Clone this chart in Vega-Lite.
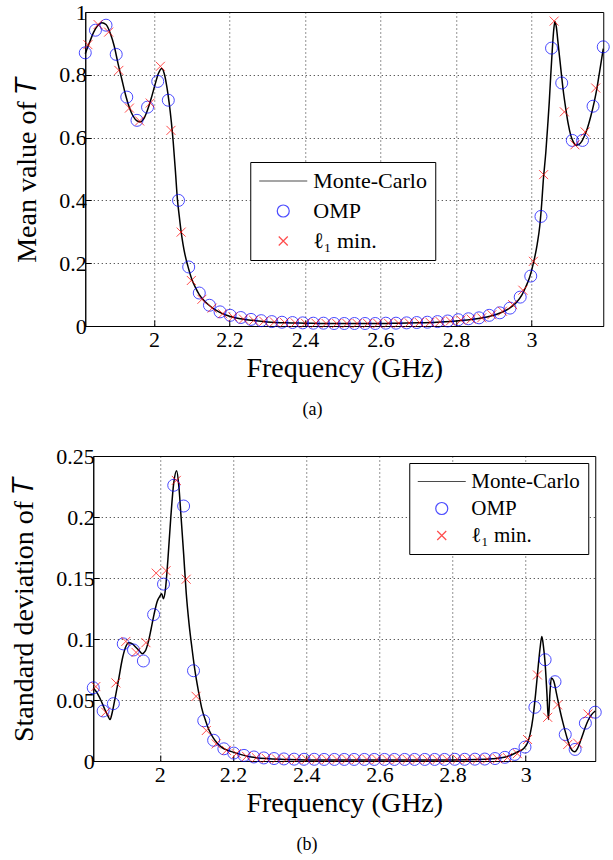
{
  "$schema": "https://vega.github.io/schema/vega-lite/v6.json",
  "background": "white",
  "padding": {"left": 10, "top": 0, "right": 2, "bottom": 0},
  "spacing": 24,
  "center": true,
  "config": {
    "font": "Liberation Serif",
    "view": {"stroke": "black", "strokeWidth": 1},
    "axis": {
      "labelFont": "Liberation Serif", "titleFont": "Liberation Serif",
      "labelFontSize": 22, "titleFontSize": 28, "titleFontWeight": "normal",
      "labelColor": "black", "titleColor": "black",
      "domainColor": "black", "domainWidth": 1, "tickColor": "black", "tickSize": -6, "tickWidth": 1,
      "gridColor": "#000000", "gridDash": [1, 3], "gridOpacity": 0.85, "gridWidth": 1
    },
    "axisX": {"titlePadding": 4, "labelPadding": 9},
    "axisY": {"titlePadding": 17, "labelPadding": 5},
    "legend": {
      "labelFont": "Liberation Serif", "labelColor": "black",
      "strokeColor": "black", "fillColor": "white", "padding": 8,
      "symbolSize": 144, "symbolStrokeWidth": 1.2, "symbolOffset": 14, "labelOffset": 19
    }
  },
  "datasets": {
    "tm": [
      {"f":1.818,"v":0.867},{"f":1.830,"v":0.905},{"f":1.840,"v":0.935},{"f":1.850,"v":0.955},{"f":1.862,"v":0.966},
      {"f":1.873,"v":0.960},{"f":1.885,"v":0.930},{"f":1.895,"v":0.890},{"f":1.905,"v":0.835},{"f":1.915,"v":0.785},
      {"f":1.925,"v":0.735},{"f":1.935,"v":0.695},{"f":1.945,"v":0.668},{"f":1.955,"v":0.653},{"f":1.963,"v":0.650},
      {"f":1.972,"v":0.658},{"f":1.982,"v":0.685},{"f":1.992,"v":0.722},{"f":2.002,"v":0.765},{"f":2.012,"v":0.805},
      {"f":2.021,"v":0.820},{"f":2.028,"v":0.800},{"f":2.035,"v":0.755},{"f":2.040,"v":0.713},{"f":2.046,"v":0.650},
      {"f":2.051,"v":0.586},{"f":2.057,"v":0.490},{"f":2.062,"v":0.405},{"f":2.067,"v":0.350},{"f":2.072,"v":0.300},
      {"f":2.077,"v":0.260},{"f":2.082,"v":0.228},{"f":2.090,"v":0.190},{"f":2.100,"v":0.150},{"f":2.110,"v":0.122},
      {"f":2.120,"v":0.100},{"f":2.135,"v":0.078},{"f":2.150,"v":0.062},{"f":2.165,"v":0.050},{"f":2.180,"v":0.040},
      {"f":2.200,"v":0.031},{"f":2.230,"v":0.023},{"f":2.260,"v":0.018},{"f":2.300,"v":0.013},{"f":2.350,"v":0.010},
      {"f":2.400,"v":0.009},{"f":2.450,"v":0.008},{"f":2.500,"v":0.008},{"f":2.550,"v":0.008},{"f":2.600,"v":0.008},
      {"f":2.650,"v":0.009},{"f":2.700,"v":0.010},{"f":2.750,"v":0.012},{"f":2.800,"v":0.016},{"f":2.830,"v":0.019},
      {"f":2.860,"v":0.024},{"f":2.890,"v":0.031},{"f":2.920,"v":0.043},{"f":2.940,"v":0.055},{"f":2.960,"v":0.075},
      {"f":2.975,"v":0.100},{"f":2.985,"v":0.125},{"f":2.995,"v":0.155},{"f":3.005,"v":0.200},{"f":3.015,"v":0.260},
      {"f":3.022,"v":0.320},{"f":3.027,"v":0.390},{"f":3.031,"v":0.460},{"f":3.038,"v":0.555},{"f":3.043,"v":0.640},
      {"f":3.047,"v":0.713},{"f":3.051,"v":0.800},{"f":3.055,"v":0.880},{"f":3.059,"v":0.945},{"f":3.062,"v":0.970},
      {"f":3.066,"v":0.950},{"f":3.070,"v":0.905},{"f":3.074,"v":0.860},{"f":3.078,"v":0.815},{"f":3.084,"v":0.750},
      {"f":3.091,"v":0.690},{"f":3.097,"v":0.645},{"f":3.104,"v":0.607},{"f":3.110,"v":0.588},{"f":3.117,"v":0.576},
      {"f":3.125,"v":0.578},{"f":3.133,"v":0.588},{"f":3.140,"v":0.605},{"f":3.148,"v":0.630},{"f":3.157,"v":0.668},
      {"f":3.166,"v":0.713},{"f":3.173,"v":0.755},{"f":3.179,"v":0.800},{"f":3.185,"v":0.845},{"f":3.190,"v":0.883}
    ],
    "to": [
      {"f":1.818,"v":0.870},{"f":1.845,"v":0.942},{"f":1.873,"v":0.958},{"f":1.900,"v":0.865},{"f":1.928,"v":0.729},
      {"f":1.955,"v":0.655},{"f":1.983,"v":0.697},{"f":2.010,"v":0.779},{"f":2.038,"v":0.719},{"f":2.065,"v":0.400},
      {"f":2.092,"v":0.188},{"f":2.120,"v":0.105},{"f":2.147,"v":0.066},{"f":2.175,"v":0.045},{"f":2.202,"v":0.034},
      {"f":2.230,"v":0.027},{"f":2.257,"v":0.021},{"f":2.284,"v":0.017},{"f":2.312,"v":0.014},{"f":2.339,"v":0.012},
      {"f":2.367,"v":0.011},{"f":2.394,"v":0.010},{"f":2.422,"v":0.009},{"f":2.449,"v":0.009},{"f":2.477,"v":0.008},
      {"f":2.504,"v":0.008},{"f":2.531,"v":0.008},{"f":2.559,"v":0.008},{"f":2.586,"v":0.008},{"f":2.614,"v":0.009},
      {"f":2.641,"v":0.009},{"f":2.669,"v":0.010},{"f":2.696,"v":0.011},{"f":2.724,"v":0.012},{"f":2.751,"v":0.014},
      {"f":2.778,"v":0.016},{"f":2.806,"v":0.020},{"f":2.833,"v":0.023},{"f":2.861,"v":0.026},{"f":2.888,"v":0.034},
      {"f":2.916,"v":0.042},{"f":2.943,"v":0.057},{"f":2.970,"v":0.092},{"f":2.998,"v":0.159},{"f":3.025,"v":0.349},
      {"f":3.053,"v":0.885},{"f":3.080,"v":0.774},{"f":3.108,"v":0.591},{"f":3.135,"v":0.591},{"f":3.163,"v":0.700},
      {"f":3.190,"v":0.889}
    ],
    "tl": [
      {"f":1.825,"v":0.896},{"f":1.852,"v":0.960},{"f":1.880,"v":0.936},{"f":1.907,"v":0.814},{"f":1.935,"v":0.694},
      {"f":1.962,"v":0.653},{"f":1.990,"v":0.710},{"f":2.017,"v":0.827},{"f":2.045,"v":0.623},{"f":2.072,"v":0.299},
      {"f":2.099,"v":0.145},{"f":2.127,"v":0.085},{"f":2.154,"v":0.057},{"f":2.182,"v":0.039},{"f":2.209,"v":0.029},
      {"f":2.237,"v":0.022},{"f":2.264,"v":0.018},{"f":2.291,"v":0.015},{"f":2.319,"v":0.013},{"f":2.346,"v":0.011},
      {"f":2.374,"v":0.010},{"f":2.401,"v":0.009},{"f":2.429,"v":0.009},{"f":2.456,"v":0.008},{"f":2.484,"v":0.008},
      {"f":2.511,"v":0.008},{"f":2.538,"v":0.008},{"f":2.566,"v":0.008},{"f":2.593,"v":0.008},{"f":2.621,"v":0.009},
      {"f":2.648,"v":0.009},{"f":2.676,"v":0.010},{"f":2.703,"v":0.011},{"f":2.731,"v":0.012},{"f":2.758,"v":0.014},
      {"f":2.785,"v":0.016},{"f":2.813,"v":0.019},{"f":2.840,"v":0.022},{"f":2.868,"v":0.026},{"f":2.895,"v":0.036},
      {"f":2.923,"v":0.047},{"f":2.950,"v":0.068},{"f":2.977,"v":0.114},{"f":3.005,"v":0.206},{"f":3.032,"v":0.482},
      {"f":3.060,"v":0.971},{"f":3.087,"v":0.682},{"f":3.115,"v":0.577},{"f":3.142,"v":0.618},{"f":3.170,"v":0.758}
    ],
    "bm": [
      {"f":1.818,"v":0.060},{"f":1.830,"v":0.055},{"f":1.840,"v":0.049},{"f":1.850,"v":0.042},{"f":1.858,"v":0.037},
      {"f":1.864,"v":0.034},{"f":1.870,"v":0.040},{"f":1.878,"v":0.052},{"f":1.888,"v":0.068},{"f":1.897,"v":0.083},
      {"f":1.906,"v":0.093},{"f":1.915,"v":0.097},{"f":1.925,"v":0.096},{"f":1.935,"v":0.093},{"f":1.945,"v":0.090},
      {"f":1.952,"v":0.088},{"f":1.960,"v":0.090},{"f":1.968,"v":0.097},{"f":1.976,"v":0.108},{"f":1.984,"v":0.120},
      {"f":1.993,"v":0.131},{"f":2.000,"v":0.135},{"f":2.005,"v":0.137},{"f":2.010,"v":0.133},{"f":2.015,"v":0.140},
      {"f":2.022,"v":0.165},{"f":2.030,"v":0.200},{"f":2.038,"v":0.228},{"f":2.046,"v":0.238},{"f":2.052,"v":0.225},
      {"f":2.058,"v":0.200},{"f":2.065,"v":0.170},{"f":2.072,"v":0.138},{"f":2.080,"v":0.112},{"f":2.088,"v":0.092},
      {"f":2.096,"v":0.074},{"f":2.105,"v":0.058},{"f":2.114,"v":0.044},{"f":2.125,"v":0.033},{"f":2.135,"v":0.025},
      {"f":2.146,"v":0.019},{"f":2.157,"v":0.0146},{"f":2.170,"v":0.011},{"f":2.185,"v":0.0088},{"f":2.200,"v":0.0073},
      {"f":2.225,"v":0.0050},{"f":2.250,"v":0.0033},{"f":2.300,"v":0.0018},{"f":2.350,"v":0.0012},{"f":2.400,"v":0.0009},
      {"f":2.500,"v":0.0008},{"f":2.600,"v":0.0008},{"f":2.700,"v":0.0008},{"f":2.800,"v":0.0009},{"f":2.870,"v":0.0012},
      {"f":2.910,"v":0.0019},{"f":2.945,"v":0.0033},{"f":2.965,"v":0.0055},{"f":2.980,"v":0.0078},{"f":2.995,"v":0.0105},
      {"f":3.005,"v":0.015},{"f":3.012,"v":0.022},{"f":3.020,"v":0.036},{"f":3.027,"v":0.055},{"f":3.033,"v":0.074},
      {"f":3.039,"v":0.092},{"f":3.044,"v":0.102},{"f":3.048,"v":0.095},{"f":3.053,"v":0.080},{"f":3.058,"v":0.055},
      {"f":3.062,"v":0.034},{"f":3.066,"v":0.055},{"f":3.070,"v":0.068},{"f":3.076,"v":0.066},{"f":3.085,"v":0.054},
      {"f":3.094,"v":0.041},{"f":3.102,"v":0.031},{"f":3.110,"v":0.022},{"f":3.118,"v":0.014},{"f":3.126,"v":0.009},
      {"f":3.134,"v":0.0075},{"f":3.141,"v":0.010},{"f":3.148,"v":0.015},{"f":3.155,"v":0.021},{"f":3.162,"v":0.027},
      {"f":3.170,"v":0.033},{"f":3.180,"v":0.038},{"f":3.190,"v":0.041}
    ],
    "bo": [
      {"f":1.818,"v":0.060},{"f":1.845,"v":0.041},{"f":1.873,"v":0.047},{"f":1.900,"v":0.096},{"f":1.928,"v":0.091},
      {"f":1.955,"v":0.082},{"f":1.983,"v":0.120},{"f":2.010,"v":0.145},{"f":2.038,"v":0.226},{"f":2.065,"v":0.209},
      {"f":2.092,"v":0.074},{"f":2.120,"v":0.033},{"f":2.147,"v":0.017},{"f":2.175,"v":0.010},{"f":2.202,"v":0.0065},
      {"f":2.230,"v":0.0046},{"f":2.257,"v":0.0033},{"f":2.284,"v":0.0025},{"f":2.312,"v":0.0020},{"f":2.339,"v":0.0017},
      {"f":2.367,"v":0.0015},{"f":2.394,"v":0.0014},{"f":2.422,"v":0.0014},{"f":2.449,"v":0.0013},{"f":2.477,"v":0.0013},
      {"f":2.504,"v":0.0013},{"f":2.531,"v":0.0013},{"f":2.559,"v":0.0013},{"f":2.586,"v":0.0013},{"f":2.614,"v":0.0013},
      {"f":2.641,"v":0.0013},{"f":2.669,"v":0.0013},{"f":2.696,"v":0.0013},{"f":2.724,"v":0.0013},{"f":2.751,"v":0.0013},
      {"f":2.778,"v":0.0013},{"f":2.806,"v":0.0014},{"f":2.833,"v":0.0014},{"f":2.861,"v":0.0015},{"f":2.888,"v":0.0016},
      {"f":2.916,"v":0.0020},{"f":2.943,"v":0.0030},{"f":2.970,"v":0.0054},{"f":2.998,"v":0.0114},{"f":3.025,"v":0.044},
      {"f":3.053,"v":0.083},{"f":3.080,"v":0.065},{"f":3.108,"v":0.0217},{"f":3.135,"v":0.0095},{"f":3.163,"v":0.031},
      {"f":3.190,"v":0.040}
    ],
    "bl": [
      {"f":1.825,"v":0.061},{"f":1.852,"v":0.040},{"f":1.880,"v":0.064},{"f":1.907,"v":0.098},{"f":1.935,"v":0.089},
      {"f":1.962,"v":0.097},{"f":1.990,"v":0.154},{"f":2.017,"v":0.156},{"f":2.045,"v":0.230},{"f":2.072,"v":0.149},
      {"f":2.099,"v":0.053},{"f":2.127,"v":0.025},{"f":2.154,"v":0.014},{"f":2.182,"v":0.0087},{"f":2.209,"v":0.0060},
      {"f":2.237,"v":0.0038},{"f":2.264,"v":0.0027},{"f":2.291,"v":0.0021},{"f":2.319,"v":0.0017},{"f":2.346,"v":0.0015},
      {"f":2.374,"v":0.0014},{"f":2.401,"v":0.0014},{"f":2.429,"v":0.0013},{"f":2.456,"v":0.0013},{"f":2.484,"v":0.0013},
      {"f":2.511,"v":0.0013},{"f":2.538,"v":0.0013},{"f":2.566,"v":0.0013},{"f":2.593,"v":0.0013},{"f":2.621,"v":0.0013},
      {"f":2.648,"v":0.0013},{"f":2.676,"v":0.0013},{"f":2.703,"v":0.0013},{"f":2.731,"v":0.0013},{"f":2.758,"v":0.0013},
      {"f":2.785,"v":0.0014},{"f":2.813,"v":0.0014},{"f":2.840,"v":0.0014},{"f":2.868,"v":0.0015},{"f":2.895,"v":0.0016},
      {"f":2.923,"v":0.0019},{"f":2.950,"v":0.0028},{"f":2.977,"v":0.0060},{"f":3.005,"v":0.0176},{"f":3.032,"v":0.0705},
      {"f":3.060,"v":0.0358},{"f":3.087,"v":0.046},{"f":3.115,"v":0.0136},{"f":3.142,"v":0.0146},{"f":3.170,"v":0.0385}
    ]
  },
  "vconcat": [
    {
      "width": 518, "height": 314,
      "title": {"text": "(a)", "orient": "bottom", "fontSize": 18, "fontWeight": "normal", "font": "Liberation Serif", "color": "black", "anchor": "middle", "frame": "bounds", "offset": 19},
      "encoding": {
        "x": {"field": "f", "type": "quantitative", "title": "Frequency (GHz)",
              "scale": {"domain": [1.818, 3.19], "nice": false, "zero": false},
              "axis": {"values": [2, 2.2, 2.4, 2.6, 2.8, 3], "format": "~g"}},
        "y": {"field": "v", "type": "quantitative", "title": "Mean value of 𝑇",
              "scale": {"domain": [0, 1], "nice": false},
              "axis": {"values": [0, 0.2, 0.4, 0.6, 0.8, 1], "format": "~g"}}
      },
      "layer": [
        {"data": {"name": "tm"},
         "mark": {"type": "line", "strokeWidth": 1.5, "interpolate": "monotone"},
         "encoding": {
           "color": {"datum": "Monte-Carlo", "type": "nominal",
                     "scale": {"domain": ["Monte-Carlo", "OMP", "ℓ₁ min."], "range": ["#000000", "#0000ff", "#ff0000"]},
                     "legend": {"title": null, "orient": "none", "legendX": 165, "legendY": 150, "labelFontSize": 22, "rowPadding": 8}}
         }},
        {"data": {"name": "to"},
         "mark": {"type": "point", "filled": false, "size": 144, "strokeWidth": 1},
         "encoding": {
           "color": {"datum": "OMP", "type": "nominal"},
           "shape": {"datum": "OMP", "type": "nominal",
                     "scale": {"domain": ["Monte-Carlo", "OMP", "ℓ₁ min."], "range": ["M-4,0H4", "circle", "M-0.75,-0.75L0.75,0.75M0.75,-0.75L-0.75,0.75"]},
                     "legend": {"title": null, "orient": "none", "legendX": 165, "legendY": 150, "labelFontSize": 22, "rowPadding": 8}}
         }},
        {"data": {"name": "tl"},
         "mark": {"type": "point", "filled": false, "size": 144, "strokeWidth": 1},
         "encoding": {
           "color": {"datum": "ℓ₁ min.", "type": "nominal"},
           "shape": {"datum": "ℓ₁ min.", "type": "nominal"}
         }}
      ],
      "resolve": {"scale": {"color": "shared", "shape": "shared"}}
    },
    {
      "width": 502, "height": 305,
      "title": {"text": "(b)", "orient": "bottom", "fontSize": 18, "fontWeight": "normal", "font": "Liberation Serif", "color": "black", "anchor": "middle", "frame": "bounds", "offset": 19},
      "encoding": {
        "x": {"field": "f", "type": "quantitative", "title": "Frequency (GHz)",
              "scale": {"domain": [1.818, 3.19], "nice": false, "zero": false},
              "axis": {"values": [2, 2.2, 2.4, 2.6, 2.8, 3], "format": "~g"}},
        "y": {"field": "v", "type": "quantitative", "title": "Standard deviation of 𝑇",
              "scale": {"domain": [0, 0.25], "nice": false},
              "axis": {"values": [0, 0.05, 0.1, 0.15, 0.2, 0.25], "format": "~g"}}
      },
      "layer": [
        {"data": {"name": "bm"},
         "mark": {"type": "line", "strokeWidth": 1.5, "interpolate": "monotone"},
         "encoding": {
           "color": {"datum": "Monte-Carlo", "type": "nominal",
                     "scale": {"domain": ["Monte-Carlo", "OMP", "ℓ₁ min."], "range": ["#000000", "#0000ff", "#ff0000"]},
                     "legend": {"title": null, "orient": "top-right", "offset": 7, "labelFontSize": 21, "rowPadding": 5}}
         }},
        {"data": {"name": "bo"},
         "mark": {"type": "point", "filled": false, "size": 144, "strokeWidth": 1},
         "encoding": {
           "color": {"datum": "OMP", "type": "nominal"},
           "shape": {"datum": "OMP", "type": "nominal",
                     "scale": {"domain": ["Monte-Carlo", "OMP", "ℓ₁ min."], "range": ["M-4,0H4", "circle", "M-0.75,-0.75L0.75,0.75M0.75,-0.75L-0.75,0.75"]},
                     "legend": {"title": null, "orient": "top-right", "offset": 7, "labelFontSize": 21, "rowPadding": 5}}
         }},
        {"data": {"name": "bl"},
         "mark": {"type": "point", "filled": false, "size": 144, "strokeWidth": 1},
         "encoding": {
           "color": {"datum": "ℓ₁ min.", "type": "nominal"},
           "shape": {"datum": "ℓ₁ min.", "type": "nominal"}
         }}
      ],
      "resolve": {"scale": {"color": "shared", "shape": "shared"}}
    }
  ],
  "resolve": {"scale": {"color": "independent", "shape": "independent"}, "legend": {"color": "independent", "shape": "independent"}}
}
